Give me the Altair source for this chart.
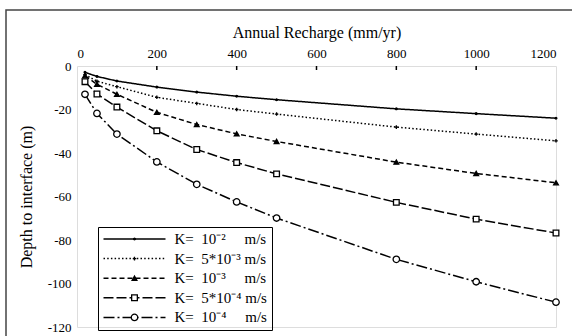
import altair as alt
import pandas as pd

# ---- data ----
recharge = [20, 50, 100, 200, 300, 400, 500, 800, 1000, 1200]
k_1e2 = [-2.9, -4.8, -6.9, -9.7, -12.0, -13.9, -15.5, -19.7, -21.9, -24.0]
k_5e3 = [-4.0, -7.0, -9.5, -14.4, -17.2, -20.0, -22.1, -28.1, -31.3, -34.4]
k_1e3 = [-4.5, -8.4, -13.0, -21.3, -26.9, -31.2, -34.7, -44.2, -49.4, -53.7]
k_5e4 = [-7.2, -12.9, -18.9, -29.8, -38.4, -44.4, -49.6, -62.7, -70.4, -76.8]
k_1e4 = [-13.0, -21.8, -31.3, -44.1, -54.4, -62.5, -69.9, -88.9, -99.2, -108.6]

NB = "\u00a0"
labels = [
    "K=" + NB * 2 + "10\u207b\u00b2" + NB * 5 + "m/s" + NB * 5,
    "K=" + NB * 2 + "5*10\u207b\u00b3" + NB * 1 + "m/s" + NB * 5,
    "K=" + NB * 2 + "10\u207b\u00b3" + NB * 5 + "m/s" + NB * 5,
    "K=" + NB * 2 + "5*10\u207b\u2074" + NB * 1 + "m/s" + NB * 5,
    "K=" + NB * 2 + "10\u207b\u2074" + NB * 5 + "m/s" + NB * 5,
]
marker_keys = ["m1", "m2", "m3", "m4", "m5"]
series = [k_1e2, k_5e3, k_1e3, k_5e4, k_1e4]

x_ticks = [0, 200, 400, 600, 800, 1000, 1200]
inner_ticks = [200, 400, 600, 800, 1000]
y_ticks = [-120, -100, -80, -60, -40, -20, 0]

rows = []
for lab, mk, vals in zip(labels, marker_keys, series):
    for xv, yv in zip(recharge, vals):
        rows.append({"x": xv, "y": yv, "K": lab, "Kp": mk})
df = pd.DataFrame(rows)

FONT = "Liberation Serif"
PLUS = "M-1,0H1M0,-1V1"

x_axis = alt.Axis(orient="top", values=x_ticks, ticks=False, domain=False, grid=False,
                  labelExpr="'' + datum.value",
                  labelFont=FONT, labelFontSize=13, labelColor="black", labelPadding=6,
                  title="Annual Recharge (mm/yr)", titleFont=FONT, titleFontSize=16,
                  titleFontWeight="normal", titleColor="black", titlePadding=7)
y_axis = alt.Axis(orient="left", values=y_ticks, ticks=False, domain=False, grid=False,
                  labelExpr="'' + datum.value",
                  labelFont=FONT, labelFontSize=13, labelColor="black", labelPadding=6,
                  title="Depth to interface (m)", titleFont=FONT, titleFontSize=16,
                  titleFontWeight="normal", titleColor="black", titlePadding=13)
x_enc = alt.X("x:Q", scale=alt.Scale(domain=[0, 1200], nice=False), axis=x_axis)
y_enc = alt.Y("y:Q", scale=alt.Scale(domain=[-120, 0], nice=False), axis=y_axis)

dashes = [[1, 0], [1.5, 2.2], [5, 3], [10, 3], [11, 3, 2, 3]]

stroke_legend = alt.Legend(orient="none", legendX=21, legendY=161, title=None,
                           symbolType="stroke", symbolSize=3844, symbolStrokeWidth=1.5,
                           symbolStrokeColor="black", labelFont=FONT, labelFontSize=15,
                           labelColor="black", labelOffset=8, padding=4.5, rowPadding=3.6,
                           clipHeight=15, strokeColor="black",
                           labelLimit=300)

shape_legend = alt.Legend(orient="none", legendX=45.5, legendY=161, title=None,
                          labelFont=FONT, labelFontSize=15, labelColor="transparent",
                          labelOffset=8, padding=4.5, rowPadding=3.6, clipHeight=15,
                          symbolStrokeColor="black", symbolStrokeWidth=1.3,
                          symbolOpacity=1, labelLimit=300, zindex=2)

base = alt.Chart(df)

lines = base.mark_line(color="black", strokeWidth=1.5).encode(
    x=x_enc, y=y_enc,
    strokeDash=alt.StrokeDash("K:N", scale=alt.Scale(domain=labels, range=dashes),
                              legend=stroke_legend),
)

points = base.mark_point(filled=True, strokeWidth=1.3, opacity=1).encode(
    x=x_enc, y=y_enc,
    shape=alt.Shape("Kp:N", scale=alt.Scale(domain=marker_keys,
                    range=["circle", PLUS, "triangle-up", "square", "circle"]),
                    legend=shape_legend),
    fill=alt.Fill("Kp:N", scale=alt.Scale(domain=marker_keys,
                  range=["black", "black", "black", "white", "white"]),
                  legend=shape_legend),
    stroke=alt.Stroke("Kp:N", scale=alt.Scale(domain=marker_keys,
                      range=["black", "black", "black", "black", "black"]),
                      legend=shape_legend),
    size=alt.Size("Kp:N", scale=alt.Scale(domain=marker_keys, range=[3, 42, 30, 24, 22]),
                  legend=shape_legend),
)

ticks = alt.Chart(pd.DataFrame({"x": inner_ticks})).mark_rule(
    color="black", strokeWidth=1.5).encode(
    x=x_enc, y=alt.value(0), y2=alt.value(4))

frame = alt.Chart(pd.DataFrame({"a": [0]})).mark_rect(
    fill="transparent", stroke="#444444", strokeWidth=1.5).encode(
    x=alt.value(-71), x2=alt.value(560), y=alt.value(-56), y2=alt.value(330))

chart = alt.layer(frame, lines, points, ticks).properties(
    width=479, height=261,
    autosize=alt.AutoSizeParams(type="none"),
    padding={"left": 77, "top": 66, "right": 16, "bottom": 9},
).configure_view(stroke="black", strokeWidth=2).configure(
    background="white", font=FONT
).configure_axis(labelFont=FONT, titleFont=FONT).configure_legend(labelFont=FONT)

chart.save("out.html", embed_options={"renderer": "svg", "actions": False})
